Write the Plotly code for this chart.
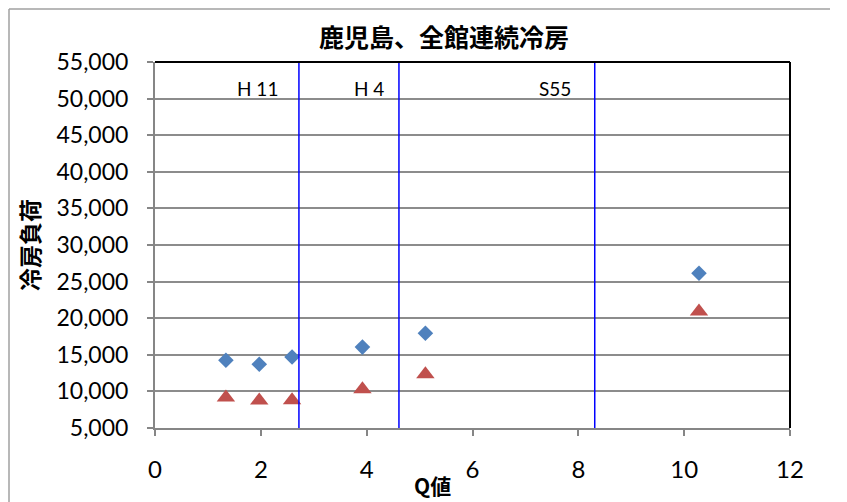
import plotly.graph_objects as go

# Data
q_values = [1.34, 1.97, 2.59, 3.92, 5.11, 10.28]
load_a = [14250, 13700, 14700, 16050, 17950, 26150]   # blue diamonds
load_b = [9150, 8750, 8800, 10300, 12350, 20900]      # red triangles
boundaries = [2.72, 4.61, 8.31]
boundary_labels = ["H 11", "H 4", "S55"]
label_x = [1.93, 4.05, 7.55]

title_text = "鹿児島、全館連続冷房"
x_title = "Q値"
y_title = "冷房負荷"

# page has an 8px body margin; figure is sized to fit the remaining window
W, H = 839, 494
L, T, R, B = 147, 54, 57, 74
PW, PH = W - L - R, H - T - B

fig = go.Figure()
fig.add_trace(go.Scatter(
    x=q_values, y=load_a, mode="markers",
    marker=dict(symbol="diamond", size=12, color="#4F81BD"),
    showlegend=False))
fig.add_trace(go.Scatter(
    x=q_values, y=load_b, mode="markers",
    marker=dict(symbol="triangle-up", size=16, color="#C0504D"),
    showlegend=False))

shapes = []
for b in boundaries:
    shapes.append(dict(type="line", xref="x", yref="paper", x0=b, x1=b, y0=0, y1=1,
                       line=dict(color="#0000FF", width=1.5)))
# top and right border (black)
shapes.append(dict(type="line", xref="paper", yref="paper", x0=0, x1=1, y0=1, y1=1,
                   line=dict(color="#000000", width=2)))
shapes.append(dict(type="line", xref="paper", yref="paper", x0=1, x1=1, y0=0, y1=1,
                   line=dict(color="#000000", width=2)))
# outer chart frame (top and left)
fy = 1 + (T - 1) / PH
fx = -(L - 1) / PW
shapes.append(dict(type="line", xref="paper", yref="paper", x0=fx, x1=(822 - L) / PW, y0=fy, y1=fy,
                   line=dict(color="#A0A0A0", width=1.5)))
shapes.append(dict(type="line", xref="paper", yref="paper", x0=fx, x1=fx, y0=-(B + 5) / PH, y1=fy,
                   line=dict(color="#A0A0A0", width=1.5)))

annotations = []
for lx, lt in zip(label_x, boundary_labels):
    annotations.append(dict(x=lx, y=51400, xref="x", yref="y", text=lt, showarrow=False,
                            xanchor="center", yanchor="middle",
                            font=dict(family="Lato, sans-serif", size=19, color="#000000")))
annotations.append(dict(x=277 / PW, y=-57 / PH, xref="paper", yref="paper",
                        text="<b>" + x_title + "</b>", showarrow=False,
                        xanchor="center", yanchor="middle",
                        font=dict(family="Noto Sans CJK JP", size=21, color="#000000")))
annotations.append(dict(x=-126 / PW, y=0.5, xref="paper", yref="paper",
                        text="<b>" + y_title + "</b>", showarrow=False, textangle=-90,
                        xanchor="center", yanchor="middle",
                        font=dict(family="Noto Sans CJK JP", size=23, color="#000000")))

fig.update_layout(
    width=W, height=H,
    margin=dict(l=L, r=R, t=T, b=B),
    paper_bgcolor="white", plot_bgcolor="white",
    title=dict(text="<b>" + title_text + "</b>", x=(444 - 8) / W, xanchor="center",
               y=1 - 30 / H, yanchor="middle",
               font=dict(family="Noto Sans CJK JP", size=25, color="#000000")),
    shapes=shapes, annotations=annotations,
    xaxis=dict(range=[0, 12], dtick=2, tick0=0, showgrid=False,
               showline=True, linecolor="#868686", linewidth=2,
               ticks="outside", ticklen=6, tickcolor="#868686", tickwidth=1.5,
               ticklabelstandoff=13, zeroline=False,
               tickfont=dict(family="Lato, sans-serif", size=24, color="#000000")),
    yaxis=dict(range=[5000, 55000], dtick=5000, tick0=5000, tickformat=",",
               showgrid=True, gridcolor="#8C8C8C", gridwidth=2,
               showline=True, linecolor="#868686", linewidth=2,
               ticks="outside", ticklen=6, tickcolor="#868686", tickwidth=1.5,
               ticklabelstandoff=14, zeroline=False,
               tickfont=dict(family="Lato, sans-serif", size=23, color="#000000")),
)

fig.write_html("out.html")
